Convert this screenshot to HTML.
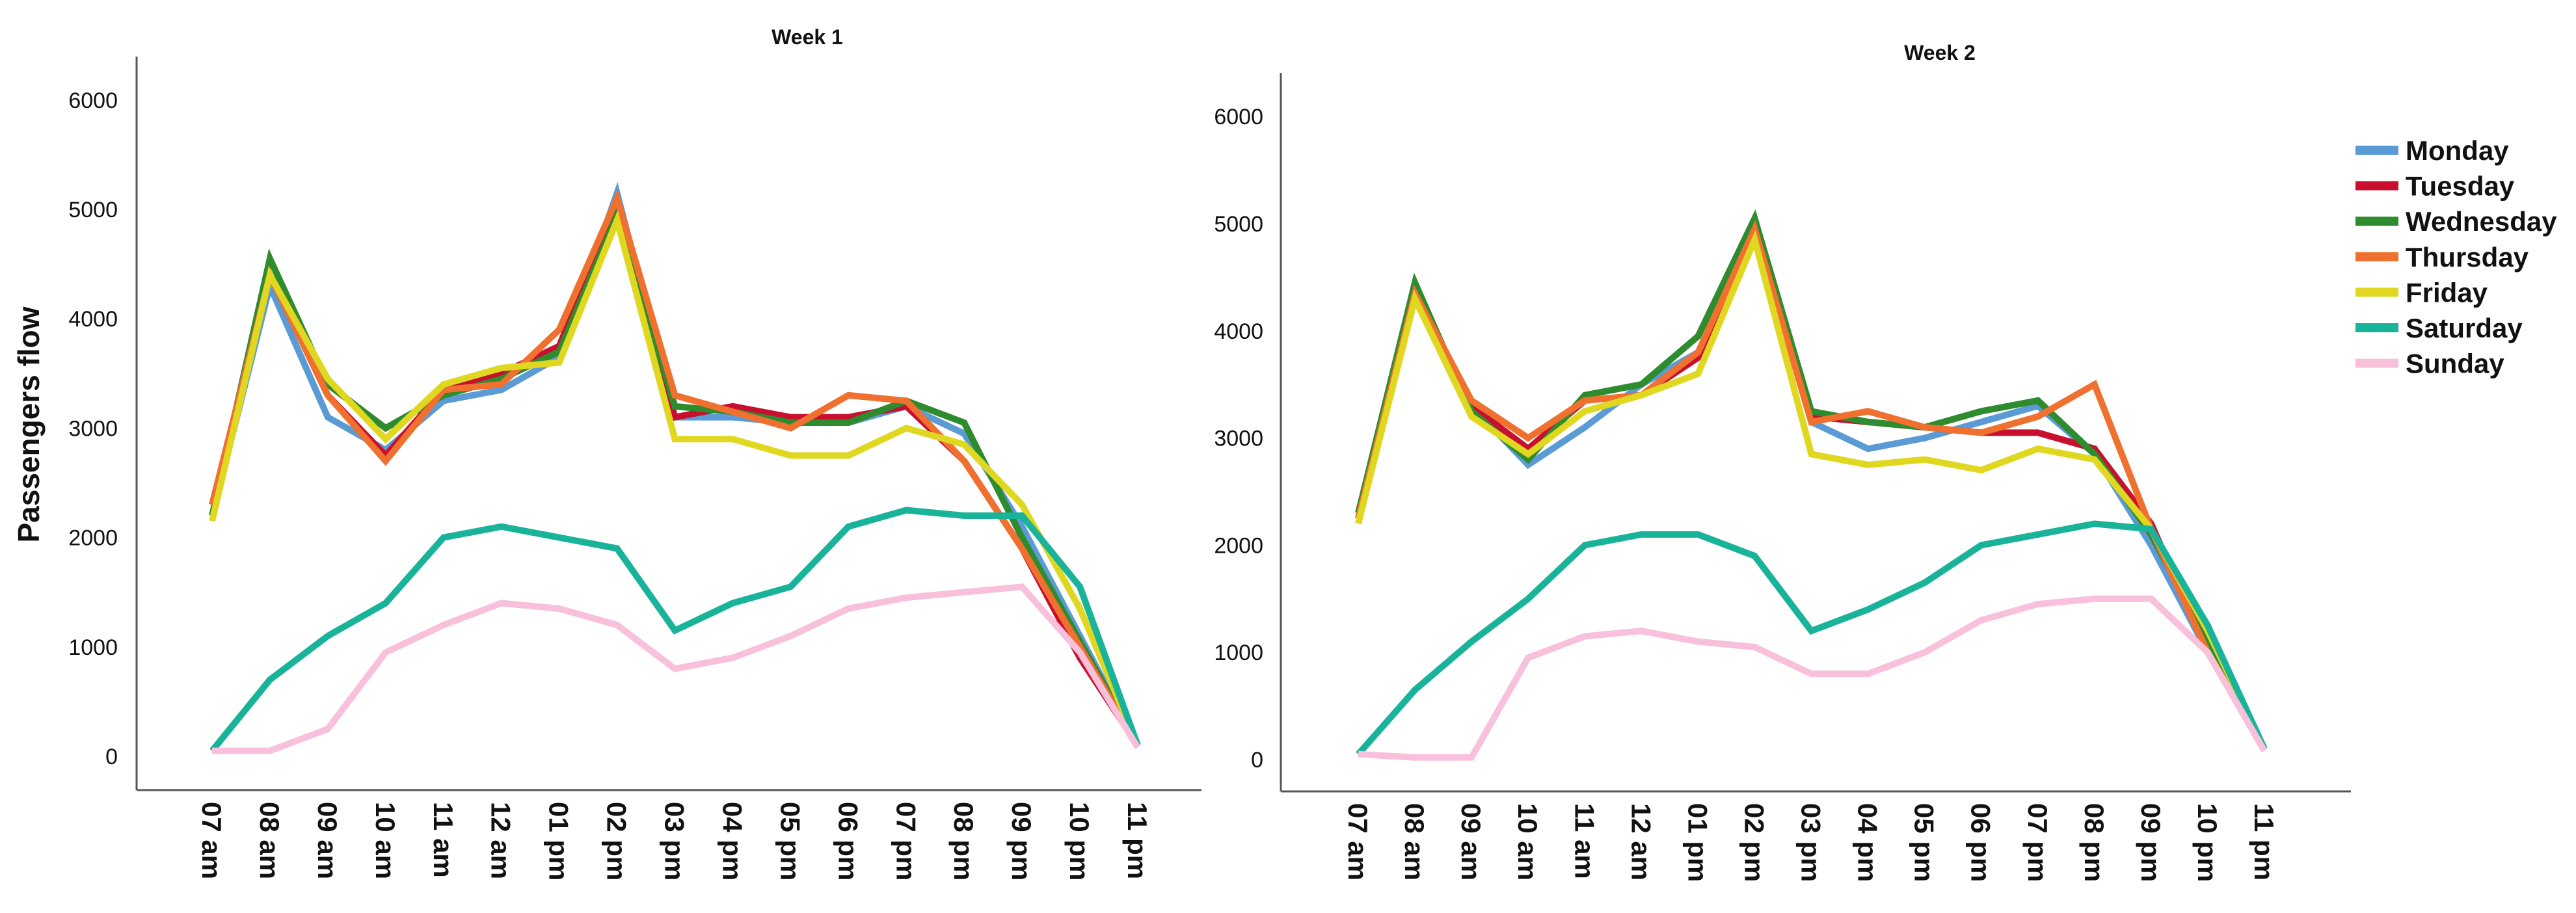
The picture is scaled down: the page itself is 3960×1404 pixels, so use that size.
<!DOCTYPE html>
<html><head><meta charset="utf-8"><style>
html,body{margin:0;padding:0;background:#fff;}
svg{display:block;}
text{font-family:"Liberation Sans",sans-serif;}
</style></head><body>
<svg id="chart" width="3960" height="1404" viewBox="0 0 3960 1404" xmlns="http://www.w3.org/2000/svg"></svg>
<script>
const categories = ["07 am","08 am","09 am","10 am","11 am","12 am","01 pm","02 pm","03 pm","04 pm","05 pm","06 pm","07 pm","08 pm","09 pm","10 pm","11 pm"];
const days = ["Monday","Tuesday","Wednesday","Thursday","Friday","Saturday","Sunday"];
const yTicks = [0,1000,2000,3000,4000,5000,6000];
const w1Monday = [2200,4300,3100,2800,3250,3350,3650,5150,3100,3100,3050,3050,3200,2950,2100,1100,100];
const w1Tuesday = [2300,4400,3300,2750,3350,3500,3750,5050,3100,3200,3100,3100,3200,2700,1900,900,100];
const w1Wednesday = [2200,4550,3400,3000,3300,3450,3700,4950,3200,3150,3050,3050,3250,3050,2000,1050,100];
const w1Thursday = [2300,4400,3300,2700,3350,3400,3900,5100,3300,3150,3000,3300,3250,2700,1900,1000,100];
const w1Friday = [2150,4400,3450,2900,3400,3550,3600,4900,2900,2900,2750,2750,3000,2850,2300,1350,100];
const w1Saturday = [50,700,1100,1400,2000,2100,2000,1900,1150,1400,1550,2100,2250,2200,2200,1550,100];
const w1Sunday = [50,50,250,950,1200,1400,1350,1200,800,900,1100,1350,1450,1500,1550,950,80];
const w2Monday = [2250,4350,3300,2750,3100,3500,3800,4950,3150,2900,3000,3150,3300,2850,2000,1000,100];
const w2Tuesday = [2250,4350,3300,2900,3350,3400,3750,4950,3200,3150,3100,3050,3050,2900,2200,1000,100];
const w2Wednesday = [2300,4450,3250,2800,3400,3500,3950,5050,3250,3150,3100,3250,3350,2850,2100,1100,100];
const w2Thursday = [2250,4350,3350,3000,3350,3400,3800,4950,3150,3250,3100,3050,3200,3500,2150,1000,100];
const w2Friday = [2200,4300,3200,2850,3250,3400,3600,4850,2850,2750,2800,2700,2900,2800,2150,1200,100];
const w2Saturday = [50,650,1100,1500,2000,2100,2100,1900,1200,1400,1650,2000,2100,2200,2150,1250,100];
const w2Sunday = [50,20,20,950,1150,1200,1100,1050,800,800,1000,1300,1450,1500,1500,1000,80];

const colors = ["#5b9bd5","#c8102e","#2e8b2e","#f07030","#e0d820","#19b39a","#f9c0dc"];
const NS="http://www.w3.org/2000/svg";
const svg=document.getElementById('chart');
function mk(tag,attrs,parent){const e=document.createElementNS(NS,tag);for(const k in attrs)e.setAttribute(k,attrs[k]);(parent||svg).appendChild(e);return e;}

function drawChart(cfg,series,id){
  const g=mk('g',{});
  
  
  const xS=i=>cfg.x0+i*(cfg.x1-cfg.x0)/(categories.length-1);
  const yS=v=>cfg.y0-v*cfg.per;
  const ya=mk('line',{x1:cfg.ax,y1:cfg.top,x2:cfg.ax,y2:cfg.bot,stroke:"#555","stroke-width":3},g);
  
  
  const xa=mk('line',{x1:cfg.ax,y1:cfg.bot,x2:cfg.axEnd,y2:cfg.bot,stroke:"#555","stroke-width":3},g);
  
  
  yTicks.forEach(t=>{
    const tx=mk('text',{x:cfg.lblX,y:yS(t)+12,"text-anchor":"end","font-size":34,fill:"#111"},g);
    tx.textContent=t;
    
    
  });
  categories.forEach((c,i)=>{
    const tx=mk('text',{x:0,y:0,"font-size":42,"font-weight":"bold",fill:"#111",transform:`translate(${xS(i)-15},${cfg.bot+18}) rotate(90)`},g);
    tx.textContent=c;
    
    
  });
  const t=mk('text',{x:cfg.titleX,y:cfg.titleY,"text-anchor":"middle","font-size":32,"font-weight":"bold",fill:"#111"},g);
  t.textContent=cfg.title;
  
  
  series.forEach((vals,s)=>{
    const pts=vals.map((v,i)=>xS(i).toFixed(1)+","+yS(v).toFixed(1)).join(" ");
    const pl=mk('polyline',{points:pts,fill:"none",stroke:colors[s],"stroke-width":10,"stroke-linejoin":"miter"},g);
    
    
  });
}

drawChart({x0:326,x1:1749,y0:1163,per:0.1682,ax:210,axEnd:1847,top:87,bot:1215,lblX:181,titleX:1241,titleY:68,title:"Week 1"},
  [w1Monday,w1Tuesday,w1Wednesday,w1Thursday,w1Friday,w1Saturday,w1Sunday],'week1');
drawChart({x0:2088,x1:3481,y0:1168,per:0.1648,ax:1969,axEnd:3614,top:112,bot:1217,lblX:1942,titleX:2982,titleY:92,title:"Week 2"},
  [w2Monday,w2Tuesday,w2Wednesday,w2Thursday,w2Friday,w2Saturday,w2Sunday],'week2');

const yt=mk('text',{x:0,y:0,"font-size":46,"font-weight":"bold",fill:"#111","text-anchor":"middle",transform:"translate(60,653) rotate(-90)"});
yt.textContent="Passengers flow";



const lg=mk('g',{});


days.forEach((d,i)=>{
  const y=231+i*54.6;
  const r=mk('rect',{x:3621,y:y-7,width:66,height:14,fill:colors[i]},lg);
  
  
  const tx=mk('text',{x:3698,y:y+15,"font-size":42,"font-weight":"bold",fill:"#111"},lg);
  tx.textContent=d;
  
  
});
</script>
</body></html>
